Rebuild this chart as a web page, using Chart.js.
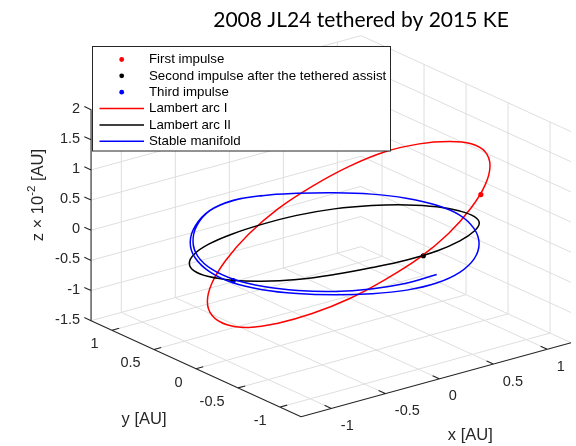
<!DOCTYPE html>
<html>
<head>
<meta charset="utf-8">
<script src="https://cdn.jsdelivr.net/npm/chart.js@4"></script>
<style>
  body { margin: 0; background: #fff; }
  #chart { display: block; }
</style>
</head>
<body>
<canvas id="chart" width="576" height="446"></canvas>
<script>
// axis limits: x, y in AU, z in 1e-2 AU
const xLim = [-1.28, 1.22];
const yLim = [-1.25, 1.25];
const zLim = [-1.5, 2];
const xTicks = [-1, -0.5, 0, 0.5, 1];
const yTicks = [-1, -0.5, 0, 0.5, 1];
const zTicks = [-1.5, -1, -0.5, 0, 0.5, 1, 1.5, 2];

// Lambert arc I (closed)
const arc1X = [0.898, 1.034, 1.107, 1.108, 1.039, 0.906, 0.717, 0.485, 0.224, -0.045, -0.307, -0.541,
               -0.732, -0.869, -0.941, -0.942, -0.874, -0.740, -0.551, -0.319, -0.059, 0.211, 0.472, 0.707];
const arc1Y = [-0.699, -0.466, -0.206, 0.064, 0.325, 0.560, 0.751, 0.887, 0.959, 0.960, 0.892, 0.759,
               0.570, 0.337, 0.077, -0.193, -0.454, -0.688, -0.879, -1.016, -1.088, -1.089, -1.021, -0.887];
const arc1Z = [1.243, 1.260, 1.190, 1.055, 0.883, 0.668, 0.393, 0.093, -0.198, -0.483, -0.738, -0.920,
               -1.018, -1.035, -0.983, -0.858, -0.655, -0.413, -0.143, 0.153, 0.430, 0.703, 0.955, 1.138];

// Lambert arc II (closed)
const arc2X = [0.836, 0.977, 1.050, 1.052, 0.982, 0.845, 0.651, 0.412, 0.145, -0.132, -0.399, -0.640,
               -0.836, -0.977, -1.050, -1.052, -0.982, -0.845, -0.651, -0.412, -0.145, 0.132, 0.399, 0.640];
const arc2Y = [-0.651, -0.412, -0.145, 0.132, 0.399, 0.640, 0.836, 0.977, 1.050, 1.052, 0.982, 0.845,
               0.651, 0.412, 0.145, -0.132, -0.399, -0.640, -0.836, -0.977, -1.050, -1.052, -0.982, -0.845];
const arc2Z = [0.290, 0.175, 0.063, -0.043, -0.148, -0.245, -0.330, -0.410, -0.475, -0.503, -0.493, -0.453,
               -0.383, -0.288, -0.178, -0.060, 0.058, 0.173, 0.285, 0.373, 0.415, 0.428, 0.420, 0.378];

// stable manifold (open, about two turns)
const manX = [0.154, -0.142, -0.402, -0.634, -0.823, -0.957, -1.025, -1.024, -0.951, -0.815, -0.628, -0.396,
              -0.130, 0.144, 0.408, 0.645, 0.837, 0.972, 1.042, 1.048, 0.974, 0.835, 0.639, 0.399,
              0.131, -0.145, -0.412, -0.650, -0.841, -0.977, -1.047, -1.044, -0.970, -0.831, -0.636, -0.397,
              -0.131, 0.143];
const manY = [-1.021, -1.024, -0.951, -0.815, -0.624, -0.389, -0.128, 0.142, 0.402, 0.634, 0.829, 0.972,
              1.042, 1.041, 0.967, 0.828, 0.634, 0.396, 0.130, -0.145, -0.412, -0.650, -0.843, -0.980,
              -1.050, -1.048, -0.974, -0.835, -0.637, -0.398, -0.131, 0.144, 0.410, 0.647, 0.839, 0.975,
              1.043, 1.042];
const manZ = [0.009, 0.005, -0.005, -0.018, -0.031, -0.049, -0.066, -0.066, -0.054, -0.029, 0.023, 0.068,
              0.058, 0.008, -0.037, -0.054, -0.048, -0.030, -0.008, -0.002, -0.022, -0.054, -0.085, -0.103,
              -0.104, -0.087, -0.063, -0.052, -0.063, -0.085, -0.103, -0.098, -0.074, -0.038, 0.014, 0.066,
              0.060, 0.012];

// impulse points [x, y, z]
const firstImpulse = [0.622, -0.945, 1.056];
const secondImpulse = [0.000, -1.060, 0.420];
const thirdImpulse = [-1.050, -0.146, -0.060];

const legendLabels = ['First impulse', 'Second impulse after the tethered assist', 'Third impulse',
                      'Lambert arc I', 'Lambert arc II', 'Stable manifold'];

// orthographic view: canvas units per data unit along x, y, z
const view = { ox: 334.3, oy: 240.35, ex: [108, -29.6], ey: [-84, -38.4], ez: [0, -60.3] };
function proj(x, y, z) {
  return {
    x: view.ox + x * view.ex[0] + y * view.ey[0] + z * view.ez[0],
    y: view.oy + x * view.ex[1] + y * view.ey[1] + z * view.ez[1]
  };
}

const GAP = { x: NaN, y: NaN };
function segments(list) {
  const out = [];
  list.forEach(([a, b]) => out.push(proj(...a), proj(...b), GAP));
  return out;
}

// closed curve: one extra point on each end so the spline has proper tangents
// where it joins; those two extra segments are hidden
function closedLoop(xs, ys, zs) {
  const n = xs.length;
  const pts = [];
  for (let k = -1; k <= n + 1; k++) {
    const i = (k + n) % n;
    pts.push(proj(xs[i], ys[i], zs[i]));
  }
  return pts;
}
function hideEnds(count) {
  return {
    borderColor: c => (c.p0DataIndex === 0 || c.p1DataIndex === count - 1) ? 'rgba(0,0,0,0)' : undefined
  };
}

const [x0, x1] = xLim, [y0, y1] = yLim, [z0, z1] = zLim;

const gridList = [];
xTicks.forEach(x => {
  gridList.push([[x, y0, z0], [x, y1, z0]]);
  gridList.push([[x, y1, z0], [x, y1, z1]]);
});
yTicks.forEach(y => {
  gridList.push([[x0, y, z0], [x1, y, z0]]);
  gridList.push([[x1, y, z0], [x1, y, z1]]);
});
zTicks.forEach(z => {
  gridList.push([[x0, y1, z], [x1, y1, z]]);
  gridList.push([[x1, y0, z], [x1, y1, z]]);
});

const axisList = [
  [[x0, y0, z0], [x1, y0, z0]],
  [[x0, y0, z0], [x0, y1, z0]],
  [[x0, y1, z0], [x0, y1, z1]]
];
xTicks.forEach(x => axisList.push([[x, y0, z0], [x, y0 + 0.08, z0]]));
yTicks.forEach(y => axisList.push([[x0, y, z0], [x0 + 0.066, y, z0]]));
zTicks.forEach(z => axisList.push([[x0, y1, z], [x0, y1 + 0.08, z]]));

const RED = '#ff0000', BLACK = '#000000', BLUE = '#0000ff', AXIS = '#262626';

const lineStyle = { showLine: true, pointRadius: 0, fill: false, clip: false, spanGaps: false };

const arc1Pts = closedLoop(arc1X, arc1Y, arc1Z);
const arc2Pts = closedLoop(arc2X, arc2Y, arc2Z);

const datasets = [
  Object.assign({ label: 'grid', data: segments(gridList), borderColor: '#dedede', borderWidth: 1, tension: 0, order: 10 }, lineStyle),
  Object.assign({ label: 'axes', data: segments(axisList), borderColor: AXIS, borderWidth: 1.1, tension: 0, order: 9 }, lineStyle),
  { label: legendLabels[0], data: [proj(...firstImpulse)], showLine: false, pointRadius: 2.6,
    pointBackgroundColor: RED, pointBorderWidth: 0, clip: false, order: 4 },
  { label: legendLabels[1], data: [proj(...secondImpulse)], showLine: false, pointRadius: 2.6,
    pointBackgroundColor: BLACK, pointBorderWidth: 0, clip: false, order: 4 },
  { label: legendLabels[2], data: [proj(...thirdImpulse)], showLine: false, pointRadius: 2.6,
    pointBackgroundColor: BLUE, pointBorderWidth: 0, clip: false, order: 4 },
  Object.assign({ label: legendLabels[3], data: arc1Pts, borderColor: RED, borderWidth: 1.5, tension: 0.4,
    segment: hideEnds(arc1Pts.length), order: 3 }, lineStyle),
  Object.assign({ label: legendLabels[4], data: arc2Pts, borderColor: BLACK, borderWidth: 1.5, tension: 0.4,
    segment: hideEnds(arc2Pts.length), order: 2 }, lineStyle),
  Object.assign({ label: legendLabels[5], data: manX.map((x, i) => proj(x, manY[i], manZ[i])), borderColor: BLUE,
    borderWidth: 1.5, tension: 0.4, order: 1 }, lineStyle)
];

const TICK_FONT = '14.5px "Liberation Sans", Arial, sans-serif';
const LABEL_FONT = '16.5px "Liberation Sans", Arial, sans-serif';

// tick labels, axis titles, legend box and title drawn on top of the plot
const decorations = {
  id: 'decorations',
  afterDatasetsDraw(chart) {
    const ctx = chart.ctx;
    const sx = chart.scales.x, sy = chart.scales.y;
    const toPx = (x, y, z) => {
      const p = proj(x, y, z);
      return [sx.getPixelForValue(p.x), sy.getPixelForValue(p.y)];
    };
    ctx.save();
    ctx.fillStyle = AXIS;
    ctx.font = TICK_FONT;
    ctx.textBaseline = 'middle';

    ctx.textAlign = 'right';
    zTicks.forEach(z => {
      const [px, py] = toPx(x0, y1, z);
      ctx.fillText(String(z), px - 11, py - 1);
    });
    yTicks.forEach(y => {
      const [px, py] = toPx(x0, y, z0);
      ctx.fillText(String(y), px - 13.5, py + 14);
    });
    ctx.textAlign = 'left';
    xTicks.forEach(x => {
      const [px, py] = toPx(x, y0, z0);
      ctx.fillText(String(x), px + 9.5, py + 17.5);
    });

    // axis titles
    ctx.font = LABEL_FONT;
    ctx.textAlign = 'center';
    let [mx, my] = toPx(x0, 0, z0);
    ctx.fillText('y [AU]', mx - 52, my + 51);
    [mx, my] = toPx(0, y0, z0);
    ctx.fillText('x [AU]', mx + 31, my + 57);

    // z title with superscript, rotated
    [mx, my] = toPx(x0, y1, 0.5);
    ctx.save();
    ctx.translate(38, my - 5);
    ctx.rotate(-Math.PI / 2);
    ctx.textAlign = 'left';
    const supFont = '11.5px "Liberation Sans", Arial, sans-serif';
    const partA = 'z \u00d7 10', sup = '-2', partB = ' [AU]';
    ctx.font = LABEL_FONT;
    const wA = ctx.measureText(partA).width, wB = ctx.measureText(partB).width;
    ctx.font = supFont;
    const wS = ctx.measureText(sup).width;
    let cx = -(wA + wS + wB) / 2;
    ctx.font = LABEL_FONT;
    ctx.fillText(partA, cx, 0);
    cx += wA;
    ctx.font = supFont;
    ctx.fillText(sup, cx, -6.5);
    cx += wS;
    ctx.font = LABEL_FONT;
    ctx.fillText(partB, cx, 0);
    ctx.restore();

    // legend box
    const box = { left: 92.5, top: 46.5, width: 298, height: 104.5 };
    ctx.fillStyle = '#ffffff';
    ctx.fillRect(box.left, box.top, box.width, box.height);
    ctx.strokeStyle = AXIS;
    ctx.lineWidth = 1;
    ctx.strokeRect(box.left, box.top, box.width, box.height);
    ctx.font = '13.3px "Liberation Sans", Arial, sans-serif';
    ctx.textAlign = 'left';
    const rowH = 16.35;
    const items = [
      { kind: 'dot', color: RED }, { kind: 'dot', color: BLACK }, { kind: 'dot', color: BLUE },
      { kind: 'line', color: RED }, { kind: 'line', color: BLACK }, { kind: 'line', color: BLUE }
    ];
    items.forEach((it, i) => {
      const yy = box.top + 13 + i * rowH;
      if (it.kind === 'dot') {
        ctx.fillStyle = it.color;
        ctx.beginPath();
        ctx.arc(121.7, yy, 2.4, 0, Math.PI * 2);
        ctx.fill();
      } else {
        ctx.strokeStyle = it.color;
        ctx.lineWidth = 1.5;
        ctx.beginPath();
        ctx.moveTo(99.5, yy);
        ctx.lineTo(144, yy);
        ctx.stroke();
      }
      ctx.fillStyle = '#000000';
      ctx.fillText(legendLabels[i], 149, yy);
    });

    // title
    ctx.fillStyle = '#000000';
    ctx.font = '21px Lato, "Open Sans", sans-serif';
    ctx.textAlign = 'center';
    ctx.fillText('2008 JL24 tethered by 2015 KE', 361, 20);
    ctx.restore();
  }
};

new Chart(document.getElementById('chart'), {
  type: 'scatter',
  data: { datasets: datasets },
  options: {
    responsive: false,
    animation: false,
    layout: { padding: 0, autoPadding: false },
    scales: {
      x: { type: 'linear', display: false, min: 0, max: 576 },
      y: { type: 'linear', display: false, min: 0, max: 446, reverse: true }
    },
    plugins: { legend: { display: false }, tooltip: { enabled: false } }
  },
  plugins: [decorations]
});
</script>
</body>
</html>
